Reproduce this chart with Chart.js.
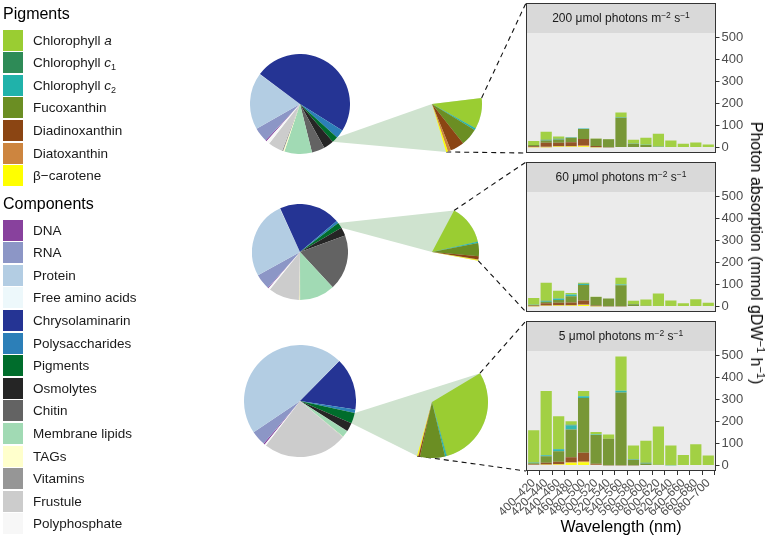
<!DOCTYPE html>
<html>
<head>
<meta charset="utf-8">
<script src="https://cdn.jsdelivr.net/npm/chart.js@4.4.1/dist/chart.umd.min.js"></script>
<style>
  body { margin:0; width:772px; height:542px; position:relative; overflow:hidden; background:#fff;
         font-family:"Liberation Sans", Arial, sans-serif; }
  canvas { position:absolute; display:block; }
  .head { position:absolute; left:3px; font-size:16px; color:#000; line-height:20px; }
  .item { position:absolute; left:3px; height:21px; display:flex; align-items:center;
          font-size:13.5px; color:#1a1a1a; white-space:nowrap; }
  .sw { width:20px; height:21px; margin-right:10px; flex:none; }
  .item sub { font-size:9px; vertical-align:-3px; line-height:0; }
  #ytitle { position:absolute; left:756px; top:253px; transform:translate(-50%,-50%) rotate(90deg);
            font-size:16px; color:#000; white-space:nowrap; }
  #ytitle sup { font-size:11px; line-height:0; vertical-align:6px; }
</style>
</head>
<body>
<canvas id="links" width="772" height="542" style="left:0;top:0"></canvas>
<div id="ytitle">Photon absorption (mmol gDW<sup>−1</sup> h<sup>−1</sup>)</div>
<script>
// legend / categories
const pigments = ['Chlorophyll a', 'Chlorophyll c1', 'Chlorophyll c2', 'Fucoxanthin', 'Diadinoxanthin', 'Diatoxanthin', 'β−carotene'];
const pigmentLegend = ['Chlorophyll <i>a</i>', 'Chlorophyll <i>c</i><sub>1</sub>', 'Chlorophyll <i>c</i><sub>2</sub>', 'Fucoxanthin', 'Diadinoxanthin', 'Diatoxanthin', 'β−carotene'];
const pigmentColors = ['#9acd32', '#2e8b57', '#20b2aa', '#6b8e23', '#8b4513', '#cd853f', '#ffff00'];
const components = ['DNA', 'RNA', 'Protein', 'Free amino acids', 'Chrysolaminarin', 'Polysaccharides', 'Pigments', 'Osmolytes', 'Chitin', 'Membrane lipids', 'TAGs', 'Vitamins', 'Frustule', 'Polyphosphate'];
const componentColors = ['#88419d', '#8c96c6', '#b3cde3', '#edf8fb', '#253494', '#2c7fb8', '#006d2c', '#252525', '#636363', '#a1dab4', '#ffffcc', '#969696', '#cccccc', '#f7f7f7'];

const lightLevels = ['200', '60', '5'];
const bands = ['400–420', '420–440', '440–460', '460–480', '480–500', '500–520', '520–540', '540–560', '560–580', '580–600', '600–620', '620–640', '640–660', '660–680', '680–700'];
const yTicks = [0, 100, 200, 300, 400, 500];

// cell composition (% of pie), components order
const comp200 = [0.4, 4.7, 18.3, 0.1, 48.6, 2.8, 1.9, 3.3, 4.2, 8.9, 0.4, 0.4, 4.7, 1.1];
const comp60  = [0.3, 5.3, 26.1, 0.1, 20.6, 0.8, 1.9, 2.9, 18.6, 11.9, 0.3, 0.1, 10.4, 0.6];
const comp5   = [0.4, 4.3, 46.7, 0.1, 15.0, 1.0, 3.1, 2.5, 0.1, 1.9, 0.1, 0.1, 24.2, 0.4];

// pigment wedges (degrees of arc), pigments order
const wedge200 = [36, 0.5, 2, 20, 16.4, 3.6, 2];
const wedge60  = [49, 0.5, 1.5, 16.3, 4, 0.6, 0.7];
const wedge5   = [105.5, 0.5, 1.5, 26, 1.5, 0.5, 1];

// photon absorption per band, one row per pigment
const abs200 = [
  [18, 36, 10, 1, 0, 1, 1, 22, 17, 31, 58, 32, 17, 23, 14],
  [0, 1, 1, 0, 0, 0, 0, 0, 0, 0, 0, 0, 0, 0, 0],
  [0, 2, 3, 2, 2, 0, 0, 2, 1, 2, 1, 0, 0, 0, 0],
  [5, 11, 15, 20, 45, 33, 37, 133, 17, 11, 3, 0, 0, 0, 0],
  [4, 18, 15, 18, 28, 6, 1, 2, 0, 0, 0, 0, 0, 0, 0],
  [1, 2, 1, 2, 5, 0, 0, 0, 0, 0, 0, 0, 0, 0, 0],
  [1, 1, 5, 4, 6, 1, 0, 0, 0, 0, 0, 0, 0, 0, 0]
];
const abs60 = [
  [31, 82, 35, 6, 5, 1, 0, 30, 15, 29, 57, 27, 15, 33, 17],
  [0, 1, 1, 1, 1, 0, 0, 0, 0, 0, 0, 0, 0, 0, 0],
  [1, 4, 5, 7, 4, 0, 0, 3, 1, 0, 0, 0, 0, 0, 0],
  [3, 6, 13, 29, 71, 39, 35, 96, 10, 3, 2, 0, 0, 0, 0],
  [3, 10, 11, 12, 18, 3, 1, 1, 0, 0, 0, 0, 0, 0, 0],
  [0, 2, 2, 2, 2, 0, 0, 0, 0, 0, 0, 0, 0, 0, 0],
  [1, 3, 4, 4, 7, 1, 0, 0, 0, 0, 0, 0, 0, 0, 0]
];
const abs5 = [
  [146, 291, 149, 16, 23, 11, 20, 155, 63, 100, 174, 90, 48, 97, 45],
  [1, 1, 1, 3, 1, 0, 0, 1, 0, 1, 0, 0, 0, 0, 0],
  [3, 4, 9, 18, 8, 2, 0, 8, 2, 2, 0, 1, 0, 0, 0],
  [4, 30, 48, 126, 248, 131, 120, 330, 25, 9, 3, 0, 0, 0, 0],
  [3, 7, 10, 23, 38, 5, 1, 1, 1, 0, 0, 0, 0, 0, 0],
  [1, 2, 2, 3, 5, 1, 0, 0, 0, 0, 0, 0, 0, 0, 0],
  [2, 3, 5, 12, 15, 2, 0, 0, 0, 0, 0, 0, 0, 0, 0]
];

const comps = [comp200, comp60, comp5];
const wedges = [wedge200, wedge60, wedge5];
const absorb = [abs200, abs60, abs5];

// layout
const pieX = 300, pieY = [104, 252, 401], pieR = [50, 48, 56], pieRot = [222, 221, 219];
const wedgeX = 432, wedgeY = [104, 252, 402], wedgeR = [50, 47, 56], wedgeRot = [83, 28, 59];
const panelTop = [3, 162, 321], stripH = 30, plotH = 120;
const barLeft = 480, barWidth = 268;

const FONT = '"Liberation Sans", Arial, sans-serif';
Chart.defaults.font.family = FONT;

// legend
function legendBlock(title, top, labels, colors) {
  const h = document.createElement('div');
  h.className = 'head'; h.style.top = top + 'px'; h.textContent = title;
  document.body.appendChild(h);
  labels.forEach((lab, i) => {
    const d = document.createElement('div');
    d.className = 'item';
    d.style.top = (top + 25.5 + i * 22.6) + 'px';
    d.innerHTML = '<span class="sw" style="background:' + colors[i] + '"></span><span>' + lab + '</span>';
    document.body.appendChild(d);
  });
}
legendBlock('Pigments', 4, pigmentLegend, pigmentColors);
legendBlock('Components', 194, components, componentColors);

function addCanvas(left, top, w, h) {
  const c = document.createElement('canvas');
  c.width = w; c.height = h;
  c.style.left = left + 'px'; c.style.top = top + 'px';
  c.style.width = w + 'px'; c.style.height = h + 'px';
  c._left = left; c._top = top;
  document.body.appendChild(c);
  return c;
}

function pieOptions(rotation) {
  return {
    responsive: false, animation: false, events: [], devicePixelRatio: 1,
    rotation: rotation, layout: { padding: 0 },
    plugins: { legend: { display: false }, tooltip: { enabled: false } }
  };
}

// strip + panel background + frame
const panelPlugin = {
  id: 'panel',
  beforeDraw(chart, args, opts) {
    const { ctx, chartArea: a } = chart;
    const l = a.left - 1.5, r = a.right + 1.5;
    ctx.save();
    ctx.fillStyle = '#d9d9d9';
    ctx.fillRect(l, a.top - stripH, r - l, stripH);
    ctx.fillStyle = '#ebebeb';
    ctx.fillRect(l, a.top, r - l, a.bottom - a.top);
    ctx.restore();
  },
  afterDraw(chart, args, opts) {
    const { ctx, chartArea: a } = chart;
    const l = Math.round(a.left - 1.5) + 0.5, r = Math.round(a.right + 1.5) - 0.5;
    const t = Math.round(a.top - stripH) + 0.5, b = Math.round(a.bottom) - 0.5;
    ctx.save();
    ctx.strokeStyle = '#333'; ctx.lineWidth = 1;
    ctx.strokeRect(l, t, r - l, b - t);
    // strip label with superscripts
    const parts = [[opts.level + ' μmol photons m', 12, 0], ['−2', 8.5, -4.5], [' s', 12, 0], ['−1', 8.5, -4.5]];
    let w = 0;
    parts.forEach(p => { ctx.font = p[1] + 'px ' + FONT; p.push(ctx.measureText(p[0]).width); w += p[3]; });
    let x = (a.left + a.right) / 2 - w / 2;
    const y = a.top - stripH / 2 + 4.3;
    ctx.fillStyle = '#1a1a1a'; ctx.textBaseline = 'alphabetic';
    parts.forEach(p => { ctx.font = p[1] + 'px ' + FONT; ctx.fillText(p[0], x, y + p[2]); x += p[3]; });
    ctx.restore();
  }
};

function barChart(i) {
  const showX = i === 2;
  const h = stripH + plotH + (showX ? 70 : 14);
  const c = addCanvas(barLeft, panelTop[i], barWidth, h);
  const datasets = [];
  for (let k = pigments.length - 1; k >= 0; k--) {
    datasets.push({
      label: pigments[k], data: absorb[i][k],
      backgroundColor: pigmentColors[k] + 'e6',
      borderWidth: 0,
      barPercentage: 0.9, categoryPercentage: 1
    });
  }
  return new Chart(c, {
    type: 'bar',
    data: { labels: bands, datasets },
    plugins: [panelPlugin],
    options: {
      responsive: false, animation: false, events: [], devicePixelRatio: 1,
      layout: { padding: { top: stripH, left: 47.5, right: 4, bottom: showX ? 0 : 14 } },
      scales: {
        x: {
          display: showX, stacked: true, offset: true,
          grid: { drawOnChartArea: false, drawTicks: true, tickLength: 4, color: '#333' },
          border: { display: false },
          ticks: { minRotation: 45, maxRotation: 45, autoSkip: false, color: '#4d4d4d', font: { size: 12 }, padding: 1 },
          title: { display: true, text: 'Wavelength (nm)', color: '#000', font: { size: 16 }, padding: { top: 2, bottom: 4 } },
          afterFit: s => { if (showX) s.height = 70; }
        },
        y: {
          stacked: true, position: 'right', min: -25, max: 520,
          afterBuildTicks: s => { s.ticks = yTicks.map(v => ({ value: v })); },
          grid: { drawOnChartArea: false, drawTicks: true, tickLength: 5, color: '#333' },
          border: { display: false },
          ticks: { color: '#4d4d4d', font: { size: 13 }, padding: 2 },
          afterFit: s => { s.width = 29.5; }
        }
      },
      plugins: { legend: { display: false }, tooltip: { enabled: false }, panel: { level: lightLevels[i] } }
    }
  });
}

const links = document.getElementById('links').getContext('2d');

function hull(pts) {
  pts = pts.slice().sort((a, b) => a[0] - b[0] || a[1] - b[1]);
  const cross = (o, a, b) => (a[0] - o[0]) * (b[1] - o[1]) - (a[1] - o[1]) * (b[0] - o[0]);
  const lo = [], up = [];
  for (const p of pts) { while (lo.length >= 2 && cross(lo[lo.length - 2], lo[lo.length - 1], p) <= 0) lo.pop(); lo.push(p); }
  for (const p of pts.slice().reverse()) { while (up.length >= 2 && cross(up[up.length - 2], up[up.length - 1], p) <= 0) up.pop(); up.push(p); }
  lo.pop(); up.pop();
  return lo.concat(up);
}

for (let i = 0; i < 3; i++) {
  const pc = addCanvas(pieX - pieR[i], pieY[i] - pieR[i], 2 * pieR[i], 2 * pieR[i]);
  const pie = new Chart(pc, {
    type: 'pie',
    data: { labels: components, datasets: [{ data: comps[i], backgroundColor: componentColors, borderWidth: 0, hoverOffset: 0 }] },
    options: pieOptions(pieRot[i])
  });

  const wv = wedges[i];
  const gap = 360 - wv.reduce((s, v) => s + v, 0);
  const wc = addCanvas(wedgeX - wedgeR[i], wedgeY[i] - wedgeR[i], 2 * wedgeR[i], 2 * wedgeR[i]);
  const wedge = new Chart(wc, {
    type: 'pie',
    data: { labels: pigments.concat(['']), datasets: [{ data: wv.concat([gap]), backgroundColor: pigmentColors.concat(['rgba(0,0,0,0)']), borderWidth: 0, hoverOffset: 0 }] },
    options: pieOptions(wedgeRot[i])
  });

  const bars = barChart(i);

  // connector from pigment slice to wedge, and dashed lines to the panel
  const pig = pie.getDatasetMeta(0).data[6];
  const pt = (cv, el, ang) => [cv._left + el.x + el.outerRadius * Math.cos(ang), cv._top + el.y + el.outerRadius * Math.sin(ang)];
  const w0 = wedge.getDatasetMeta(0).data[0], w6 = wedge.getDatasetMeta(0).data[6];
  const top = pt(wc, w0, w0.startAngle), bot = pt(wc, w6, w6.endAngle);
  const pts = [pt(pc, pig, pig.startAngle), pt(pc, pig, pig.endAngle), [wc._left + w0.x, wc._top + w0.y]];
  for (let s = 0; s <= 20; s++) {
    const a = w0.startAngle + (w6.endAngle - w0.startAngle) * s / 20;
    pts.push(pt(wc, w0, a));
  }
  const hp = hull(pts);
  links.fillStyle = '#cfe3cf';
  links.beginPath();
  hp.forEach((p, k) => k ? links.lineTo(p[0], p[1]) : links.moveTo(p[0], p[1]));
  links.closePath(); links.fill();

  const ca = bars.chartArea;
  const px = bars.canvas._left + ca.left - 1.5;
  const py0 = bars.canvas._top + ca.top - stripH, py1 = bars.canvas._top + ca.bottom;
  links.save();
  links.strokeStyle = '#111'; links.lineWidth = 1.1; links.setLineDash([5, 4]);
  links.beginPath(); links.moveTo(top[0], top[1]); links.lineTo(px, py0); links.stroke();
  links.beginPath(); links.moveTo(bot[0], bot[1]); links.lineTo(px, py1); links.stroke();
  links.restore();
}
</script>
</body>
</html>
